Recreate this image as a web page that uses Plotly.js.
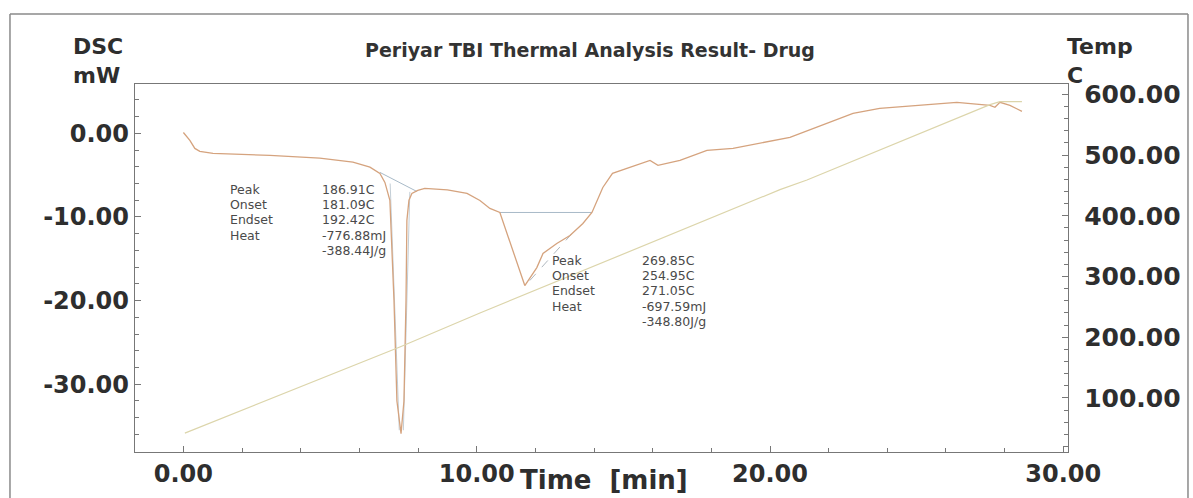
<!DOCTYPE html>
<html>
<head>
<meta charset="utf-8">
<script src="https://cdn.plot.ly/plotly-3.0.1.min.js"></script>
<style>
  html, body { margin: 0; padding: 0; background: #ffffff; }
  #chart { width: 1193px; height: 498px; }
</style>
</head>
<body>
<div id="chart"></div>
<script>
// ---- DSC signal (time in min, heat flow in mW) ----
const dscTime = [0.0, 0.22, 0.39, 0.56, 1.01, 2.95, 4.65, 5.78, 6.36, 6.70, 6.87, 7.04, 7.18, 7.28, 7.42,
  7.52, 7.59, 7.62, 7.69, 7.79, 7.99, 8.23, 9.0, 9.67, 10.11, 10.45, 10.79, 11.64, 12.05, 12.26, 12.73,
  13.18, 13.62, 13.93, 14.30, 14.63, 15.12, 15.67, 15.91, 16.18, 16.93, 17.85, 18.74, 20.68, 21.46,
  22.83, 23.74, 26.37, 27.50, 27.67, 27.84, 28.18, 28.59];
const dscValue = [0.1, -0.84, -1.8, -2.16, -2.40, -2.63, -2.96, -3.44, -4.04, -4.79, -5.87, -8.0, -20.0, -32.0, -35.9,
  -32.0, -20.0, -10.4, -8.0, -7.19, -6.83, -6.59, -6.75, -7.19, -8.02, -8.98, -9.46, -18.2, -16.05, -14.37, -13.17,
  -12.22, -10.78, -9.46, -6.47, -4.79, -4.19, -3.47, -3.23, -3.83, -3.23, -2.04, -1.80, -0.48, 0.60,
  2.40, 2.99, 3.71, 3.35, 3.11, 3.71, 3.35, 2.63];

// ---- Temperature program (time in min, temperature in C) ----
const tempTime = [0.05, 7.38, 10.11, 20.34, 21.26, 27.50, 27.84, 28.59];
const tempValue = [42, 184, 240, 443, 459, 583, 588, 588];

// ---- Analysis construction lines ----
const base1Time = [6.70, 7.96];
const base1Value = [-4.67, -6.95];
const tan1aTime = [7.05, 7.36];
const tan1aValue = [-6.0, -35.5];
const tan1bTime = [7.72, 7.50];
const tan1bValue = [-7.0, -35.5];
const base2Time = [10.79, 13.93];
const base2Value = [-9.46, -9.46];
const tan2Time = [11.81, 13.28];
const tan2Value = [-17.6, -11.86];

// ---- Axis tick labels ----
const xTickVals = [0, 10, 20, 30];
const xTickText = ["0.00", "10.00", "20.00", "30.00"];
const yTickVals = [0, -10, -20, -30];
const yTickText = ["0.00", "-10.00", "-20.00", "-30.00"];
const y2TickVals = [100, 200, 300, 400, 500, 600];
const y2TickText = ["100.00", "200.00", "300.00", "400.00", "500.00", "600.00"];

// ---- Peak result texts ----
const resultLabels = ["Peak", "Onset", "Endset", "Heat", ""];
const peak1Values = ["186.91C", "181.09C", "192.42C", "-776.88mJ", "-388.44J/g"];
const peak2Values = ["269.85C", "254.95C", "271.05C", "-697.59mJ", "-348.80J/g"];

const titleText = "Periyar TBI Thermal Analysis Result- Drug";
const leftTitle = "DSC<br>mW";
const rightTitle = "Temp<br>C";
const xTitle = "Time\u00a0\u00a0[min]";

const bold = {family: "DejaVu Sans", size: 24, color: "#2e2e2e", weight: "bold"};
const unitFont = {family: "DejaVu Sans", size: 22, color: "#2e2e2e", weight: "bold"};
const small = {family: "DejaVu Sans", size: 12.5, color: "#4a4a4a"};

const traces = [
  {x: tempTime, y: tempValue, yaxis: "y2", mode: "lines", line: {color: "#dcd5ab", width: 1.2}, hoverinfo: "skip"},
  {x: base1Time, y: base1Value, mode: "lines", line: {color: "#a8bac8", width: 1}, hoverinfo: "skip"},
  {x: tan1aTime, y: tan1aValue, mode: "lines", line: {color: "#b4c2cc", width: 0.8}, hoverinfo: "skip"},
  {x: tan1bTime, y: tan1bValue, mode: "lines", line: {color: "#b4c2cc", width: 0.8}, hoverinfo: "skip"},
  {x: base2Time, y: base2Value, mode: "lines", line: {color: "#a8bac8", width: 1}, hoverinfo: "skip"},
  {x: tan2Time, y: tan2Value, mode: "lines", line: {color: "#b0b8bf", width: 1, dash: "dash"}, hoverinfo: "skip"},
  {x: dscTime, y: dscValue, mode: "lines", line: {color: "#d5a37e", width: 1.3}, hoverinfo: "skip"}
];

const annotations = [];
function addResults(values, xLab, xVal, y0, step) {
  for (let i = 0; i < values.length; i++) {
    const yy = y0 - i * step;
    if (resultLabels[i]) annotations.push({x: xLab, y: yy, xref: "x", yref: "y", text: resultLabels[i],
      showarrow: false, xanchor: "left", yanchor: "middle", font: small});
    annotations.push({x: xVal, y: yy, xref: "x", yref: "y", text: values[i],
      showarrow: false, xanchor: "left", yanchor: "middle", font: small});
  }
}
addResults(peak1Values, 1.52, 4.65, -6.71, 1.82);
addResults(peak2Values, 12.5, 15.56, -15.2, 1.82);

annotations.push(
  {x: 0.4877, y: 1.0924, xref: "paper", yref: "paper", text: titleText, showarrow: false,
   xanchor: "center", yanchor: "middle", font: {family: "DejaVu Sans", size: 19, color: "#333", weight: "bold"}},
  {x: -0.0685, y: 1.0625, xref: "paper", yref: "paper", text: leftTitle, showarrow: false, align: "left",
   xanchor: "left", yanchor: "middle", font: unitFont},
  {x: 0.9968, y: 1.0625, xref: "paper", yref: "paper", text: rightTitle, showarrow: false, align: "left",
   xanchor: "left", yanchor: "middle", font: unitFont},
  {x: 0.5027, y: -0.0761, xref: "paper", yref: "paper", text: xTitle, showarrow: false,
   xanchor: "center", yanchor: "middle", font: {family: "DejaVu Sans", size: 26, color: "#2e2e2e", weight: "bold"}}
);

const frame = {color: "#8a8a8a", width: 1.5};
const shapes = [
  {type: "line", xref: "paper", yref: "paper", x0: -0.134, x1: -0.134, y0: -0.13, y1: 1.190, line: frame},
  {type: "line", xref: "paper", yref: "paper", x0: -0.134, x1: 1.1286, y0: 1.190, y1: 1.190, line: frame},
  {type: "line", xref: "paper", yref: "paper", x0: 1.1286, x1: 1.1286, y0: 1.190, y1: -0.13, line: frame}
];

const axisCommon = {
  showgrid: false, zeroline: false, showline: true, linecolor: "#777", linewidth: 1.2,
  ticks: "inside", ticklen: 6, tickcolor: "#777", tickmode: "array", tickfont: bold
};

const layout = {
  width: 1193, height: 498,
  margin: {l: 135, r: 125, t: 84, b: 46},
  paper_bgcolor: "#ffffff", plot_bgcolor: "#ffffff",
  showlegend: false,
  xaxis: Object.assign({}, axisCommon, {range: [-1.65, 30.16], tickvals: xTickVals, ticktext: xTickText, mirror: true,
    minor: {ticks: "inside", tickmode: "linear", tick0: 0, dtick: 2, ticklen: 4, tickcolor: "#777"}}),
  yaxis: Object.assign({}, axisCommon, {range: [-38.1, 5.9], tickvals: yTickVals, ticktext: yTickText,
    minor: {ticks: "inside", tickmode: "linear", tick0: 0, dtick: 2, ticklen: 4, tickcolor: "#777"}}),
  yaxis2: Object.assign({}, axisCommon, {range: [11, 617], tickvals: y2TickVals, ticktext: y2TickText,
    overlaying: "y", side: "right", ticklabelstandoff: 10,
    tickfont: {family: "DejaVu Sans", size: 25, color: "#2e2e2e", weight: "bold"},
    minor: {ticks: "inside", tickmode: "linear", tick0: 0, dtick: 20, ticklen: 4, tickcolor: "#777"}}),
  annotations: annotations,
  shapes: shapes
};

Plotly.newPlot("chart", traces, layout, {displayModeBar: false, staticPlot: true});
</script>
</body>
</html>
